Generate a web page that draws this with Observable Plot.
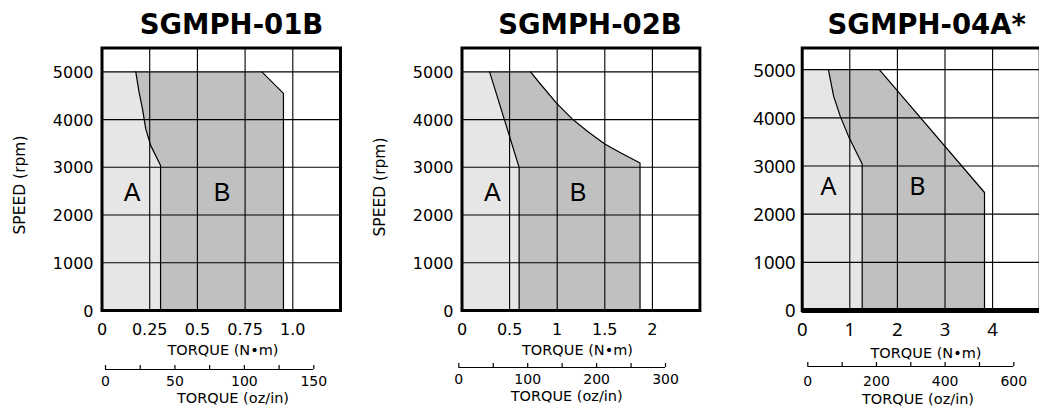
<!DOCTYPE html>
<html>
<head>
<meta charset="utf-8">
<script src="https://cdn.jsdelivr.net/npm/d3@7"></script>
<script src="https://cdn.jsdelivr.net/npm/@observablehq/plot@0.6"></script>
<style>
  html, body { margin: 0; padding: 0; background: #fff; }
  #root { position: relative; width: 1039px; height: 408px; overflow: hidden; background: #fff; font-family: "DejaVu Sans", sans-serif; color: #000; }
  .abs { position: absolute; }
  .lbl { position: absolute; white-space: nowrap; line-height: 1; transform: translate(-50%, -50%); }
  .title { font-weight: bold; font-size: 27.5px; }
  .axl { font-size: 14.5px; }
  .rot { transform: translate(-50%, -50%) rotate(-90deg); font-size: 15.5px; }
</style>
</head>
<body>
<div id="root"></div>
<script>
// ---------------- DATA ----------------
const titles = ["SGMPH-01B", "SGMPH-02B", "SGMPH-04A*"];
const speedTicks = [0, 1000, 2000, 3000, 4000, 5000];
const speedGrid = [1000, 2000, 3000, 4000, 5000];

// SGMPH-01B  (torque N·m, speed rpm)
const p1A_torque = [0.307, 0.307, 0.255, 0.229, 0.212, 0.194, 0.177];
const p1A_speed  = [0, 3040, 3460, 3810, 4230, 4580, 5000];
const p1B_torque = [0.838, 0.951, 0.951];
const p1B_speed  = [5000, 4550, 0];
const p1_torqueTicks  = [0, 0.25, 0.5, 0.75, 1.0];
const p1_torqueLabels = ["0", "0.25", "0.5", "0.75", "1.0"];
const p1_torqueGrid   = [0.25, 0.5, 0.75, 1.0];
const p1_ozTicks  = [0, 25, 50, 75, 100, 125, 150];
const p1_ozLabels = [0, 50, 100, 150];
const p1_regionNames  = ["A", "B"];
const p1_regionTorque = [0.158, 0.63];
const p1_regionSpeed  = [2460, 2460];

// SGMPH-02B
const p2A_torque = [0.60, 0.60, 0.29];
const p2A_speed  = [0, 3000, 5000];
const p2B_torque = [0.72, 0.83, 0.99, 1.165, 1.32, 1.50, 1.67, 1.87, 1.87];
const p2B_speed  = [5000, 4730, 4350, 4000, 3750, 3490, 3300, 3090, 0];
const p2_torqueTicks  = [0, 0.5, 1, 1.5, 2];
const p2_torqueLabels = ["0", "0.5", "1", "1.5", "2"];
const p2_torqueGrid   = [0.5, 1, 1.5, 2];
const p2_ozTicks  = [0, 50, 100, 150, 200, 250, 300];
const p2_ozLabels = [0, 100, 200, 300];
const p2_regionNames  = ["A", "B"];
const p2_regionTorque = [0.32, 1.22];
const p2_regionSpeed  = [2460, 2460];

// SGMPH-04A*
const p3A_torque = [1.26, 1.26, 0.98, 0.80, 0.66, 0.55];
const p3A_speed  = [0, 3040, 3600, 4030, 4450, 5000];
const p3B_torque = [1.62, 3.83, 3.83];
const p3B_speed  = [5000, 2450, 0];
const p3_torqueTicks  = [0, 1, 2, 3, 4];
const p3_torqueLabels = ["0", "1", "2", "3", "4"];
const p3_torqueGrid   = [1, 2, 3, 4];
const p3_ozTicks  = [0, 100, 200, 300, 400, 500, 600];
const p3_ozLabels = [0, 200, 400, 600];
const p3_regionNames  = ["A", "B"];
const p3_regionTorque = [0.55, 2.42];
const p3_regionSpeed  = [2570, 2570];

// ---------------- LAYOUT ----------------
const LIGHT = "#e6e6e6", DARK = "#c0c0c0";
const panels = [
  { left: 0, width: 350, mL: 101.5, mR: 10, xMax: 1.25, yMax: 5500,
    aT: p1A_torque, aS: p1A_speed, bT: p1B_torque, bS: p1B_speed,
    ticks: p1_torqueTicks, tickLabels: p1_torqueLabels, grid: p1_torqueGrid,
    rN: p1_regionNames, rT: p1_regionTorque, rS: p1_regionSpeed,
    tickFont: "DejaVu Sans", regionFont: "Liberation Sans", tickSize: 16, regionSize: 25, yDx: -8.5, xDy: 19,
    oz: { ticks: p1_ozTicks, labels: p1_ozLabels, x0: 105, x1: 313.3, lineY: 369, labDy: 12 },
    title: [231.5, 25], speedLbl: [20.5, 185], nmLbl: [223, 350], ozLbl: [233, 397.5] },
  { left: 350, width: 350, mL: 111.5, mR: 0.5, xMax: 2.5, yMax: 5500,
    aT: p2A_torque, aS: p2A_speed, bT: p2B_torque, bS: p2B_speed,
    ticks: p2_torqueTicks, tickLabels: p2_torqueLabels, grid: p2_torqueGrid,
    rN: p2_regionNames, rT: p2_regionTorque, rS: p2_regionSpeed,
    tickFont: "DejaVu Sans", regionFont: "Liberation Sans", tickSize: 16, regionSize: 25, yDx: -8.5, xDy: 19,
    oz: { ticks: p2_ozTicks, labels: p2_ozLabels, x0: 458.3, x1: 665, lineY: 366.7, labDy: 12.5 },
    title: [590, 25], speedLbl: [381, 187], nmLbl: [577.5, 350], ozLbl: [566.7, 396] },
  { left: 700, width: 341, mL: 101.7, mR: 1.3, xMax: 5, yMax: 5450,
    aT: p3A_torque, aS: p3A_speed, bT: p3B_torque, bS: p3B_speed,
    ticks: p3_torqueTicks, tickLabels: p3_torqueLabels, grid: p3_torqueGrid,
    rN: p3_regionNames, rT: p3_regionTorque, rS: p3_regionSpeed,
    tickFont: "Noto Sans", regionFont: "Noto Sans", tickSize: 18.5, regionSize: 25, yDx: -6.5, xDy: 20, thickBottom: true,
    oz: { ticks: p3_ozTicks, labels: p3_ozLabels, x0: 807.3, x1: 1013.3, lineY: 366, labDy: 15 },
    title: [926.7, 25], speedLbl: null, nmLbl: [926, 353], ozLbl: [918, 398.5] }
];

const root = document.getElementById("root");

function addLabel(text, cls, pos) {
  const d = document.createElement("div");
  d.className = "lbl " + cls;
  d.textContent = text;
  d.style.left = pos[0] + "px";
  d.style.top = pos[1] + "px";
  root.appendChild(d);
}

panels.forEach((p, k) => {
  const A = p.aT.map((t, i) => ({ x: t, y: p.aS[i] }));
  const B = p.bT.map((t, i) => ({ x: t, y: p.bS[i] }));
  const topSpeed = p.aS[p.aS.length - 1];
  const polyA = [{ x: 0, y: 0 }, { x: 0, y: topSpeed }, ...A.slice().reverse()];
  const polyB = [...A, ...B];
  const regions = p.rN.map((n, i) => ({ n, x: p.rT[i], y: p.rS[i] }));

  const marks = [
    Plot.line(polyA, { x: "x", y: "y", fill: LIGHT, stroke: "none" }),
    Plot.line(polyB, { x: "x", y: "y", fill: DARK, stroke: "none" }),
    Plot.ruleX(p.grid, { x: d => d, stroke: "#000", strokeWidth: 1.1 }),
    Plot.ruleY(speedGrid, { y: d => d, stroke: "#000", strokeWidth: 1.1 }),
    Plot.line(A, { x: "x", y: "y", stroke: "#000", strokeWidth: 1.2 }),
    Plot.line(B, { x: "x", y: "y", stroke: "#000", strokeWidth: 1.2 }),
    Plot.text(regions, { x: "x", y: "y", text: "n", fontSize: p.regionSize, fontFamily: p.regionFont, lineAnchor: "middle" }),
    Plot.frame({ stroke: "#000", strokeWidth: 3 }),
    Plot.text(p.ticks, { x: d => d, frameAnchor: "bottom", dy: p.xDy, text: (d, i) => p.tickLabels[i],
      fontSize: p.tickSize, fontFamily: p.tickFont, lineAnchor: "middle" }),
    Plot.text(speedTicks, { y: d => d, frameAnchor: "left", dx: p.yDx, dy: 1, text: d => String(d),
      textAnchor: "end", fontSize: p.tickSize, fontFamily: p.tickFont, lineAnchor: "middle" })
  ];
  if (p.thickBottom) marks.push(Plot.ruleY([0], { y: d => d, stroke: "#000", strokeWidth: 5 }));

  const svg = Plot.plot({
    width: p.width, height: 345,
    marginLeft: p.mL, marginRight: p.mR, marginTop: 47.5, marginBottom: 35,
    x: { domain: [0, p.xMax], axis: null },
    y: { domain: [0, p.yMax], axis: null },
    style: { fontFamily: "DejaVu Sans", color: "#000", background: "transparent", overflow: "visible" },
    marks
  });
  const wrap = document.createElement("div");
  wrap.className = "abs";
  wrap.style.left = p.left + "px"; wrap.style.top = "0px";
  wrap.style.width = p.width + "px"; wrap.style.height = "345px";
  wrap.appendChild(svg);
  root.appendChild(wrap);

  // secondary oz/in axis
  const o = p.oz;
  const topOff = o.lineY - 14;
  const ozSvg = Plot.plot({
    width: p.width, height: 50,
    x: { domain: [o.ticks[0], o.ticks[o.ticks.length - 1]], range: [o.x0 - p.left, o.x1 - p.left], axis: null },
    y: { domain: [0, 1], range: [14, 10], axis: null },
    style: { fontFamily: "DejaVu Sans", color: "#000", background: "transparent", overflow: "visible" },
    marks: [
      Plot.ruleY([0], { y: d => d, x1: () => o.ticks[0], x2: () => o.ticks[o.ticks.length - 1], stroke: "#000", strokeWidth: 1.2 }),
      Plot.ruleX(o.ticks, { x: d => d, y1: () => 0, y2: () => 1, stroke: "#000", strokeWidth: 1.2 }),
      Plot.text(o.labels, { x: d => d, y: () => 0, dy: o.labDy, text: d => String(d), fontSize: 14, lineAnchor: "middle" })
    ]
  });
  const wrap2 = document.createElement("div");
  wrap2.className = "abs";
  wrap2.style.left = p.left + "px"; wrap2.style.top = topOff + "px";
  wrap2.style.width = p.width + "px"; wrap2.style.height = "50px";
  wrap2.appendChild(ozSvg);
  root.appendChild(wrap2);

  addLabel(titles[k], "title", p.title);
  if (p.speedLbl) addLabel("SPEED (rpm)", "rot", p.speedLbl);
  addLabel("TORQUE (N•m)", "axl", p.nmLbl);
  addLabel("TORQUE (oz/in)", "axl", p.ozLbl);
});

// thin grey edge line seen at the left of the third panel
const edge = document.createElement("div");
edge.className = "abs";
Object.assign(edge.style, { left: "701px", top: "47px", width: "1px", height: "263px", background: "#a0a0a0" });
root.appendChild(edge);
</script>
</body>
</html>
